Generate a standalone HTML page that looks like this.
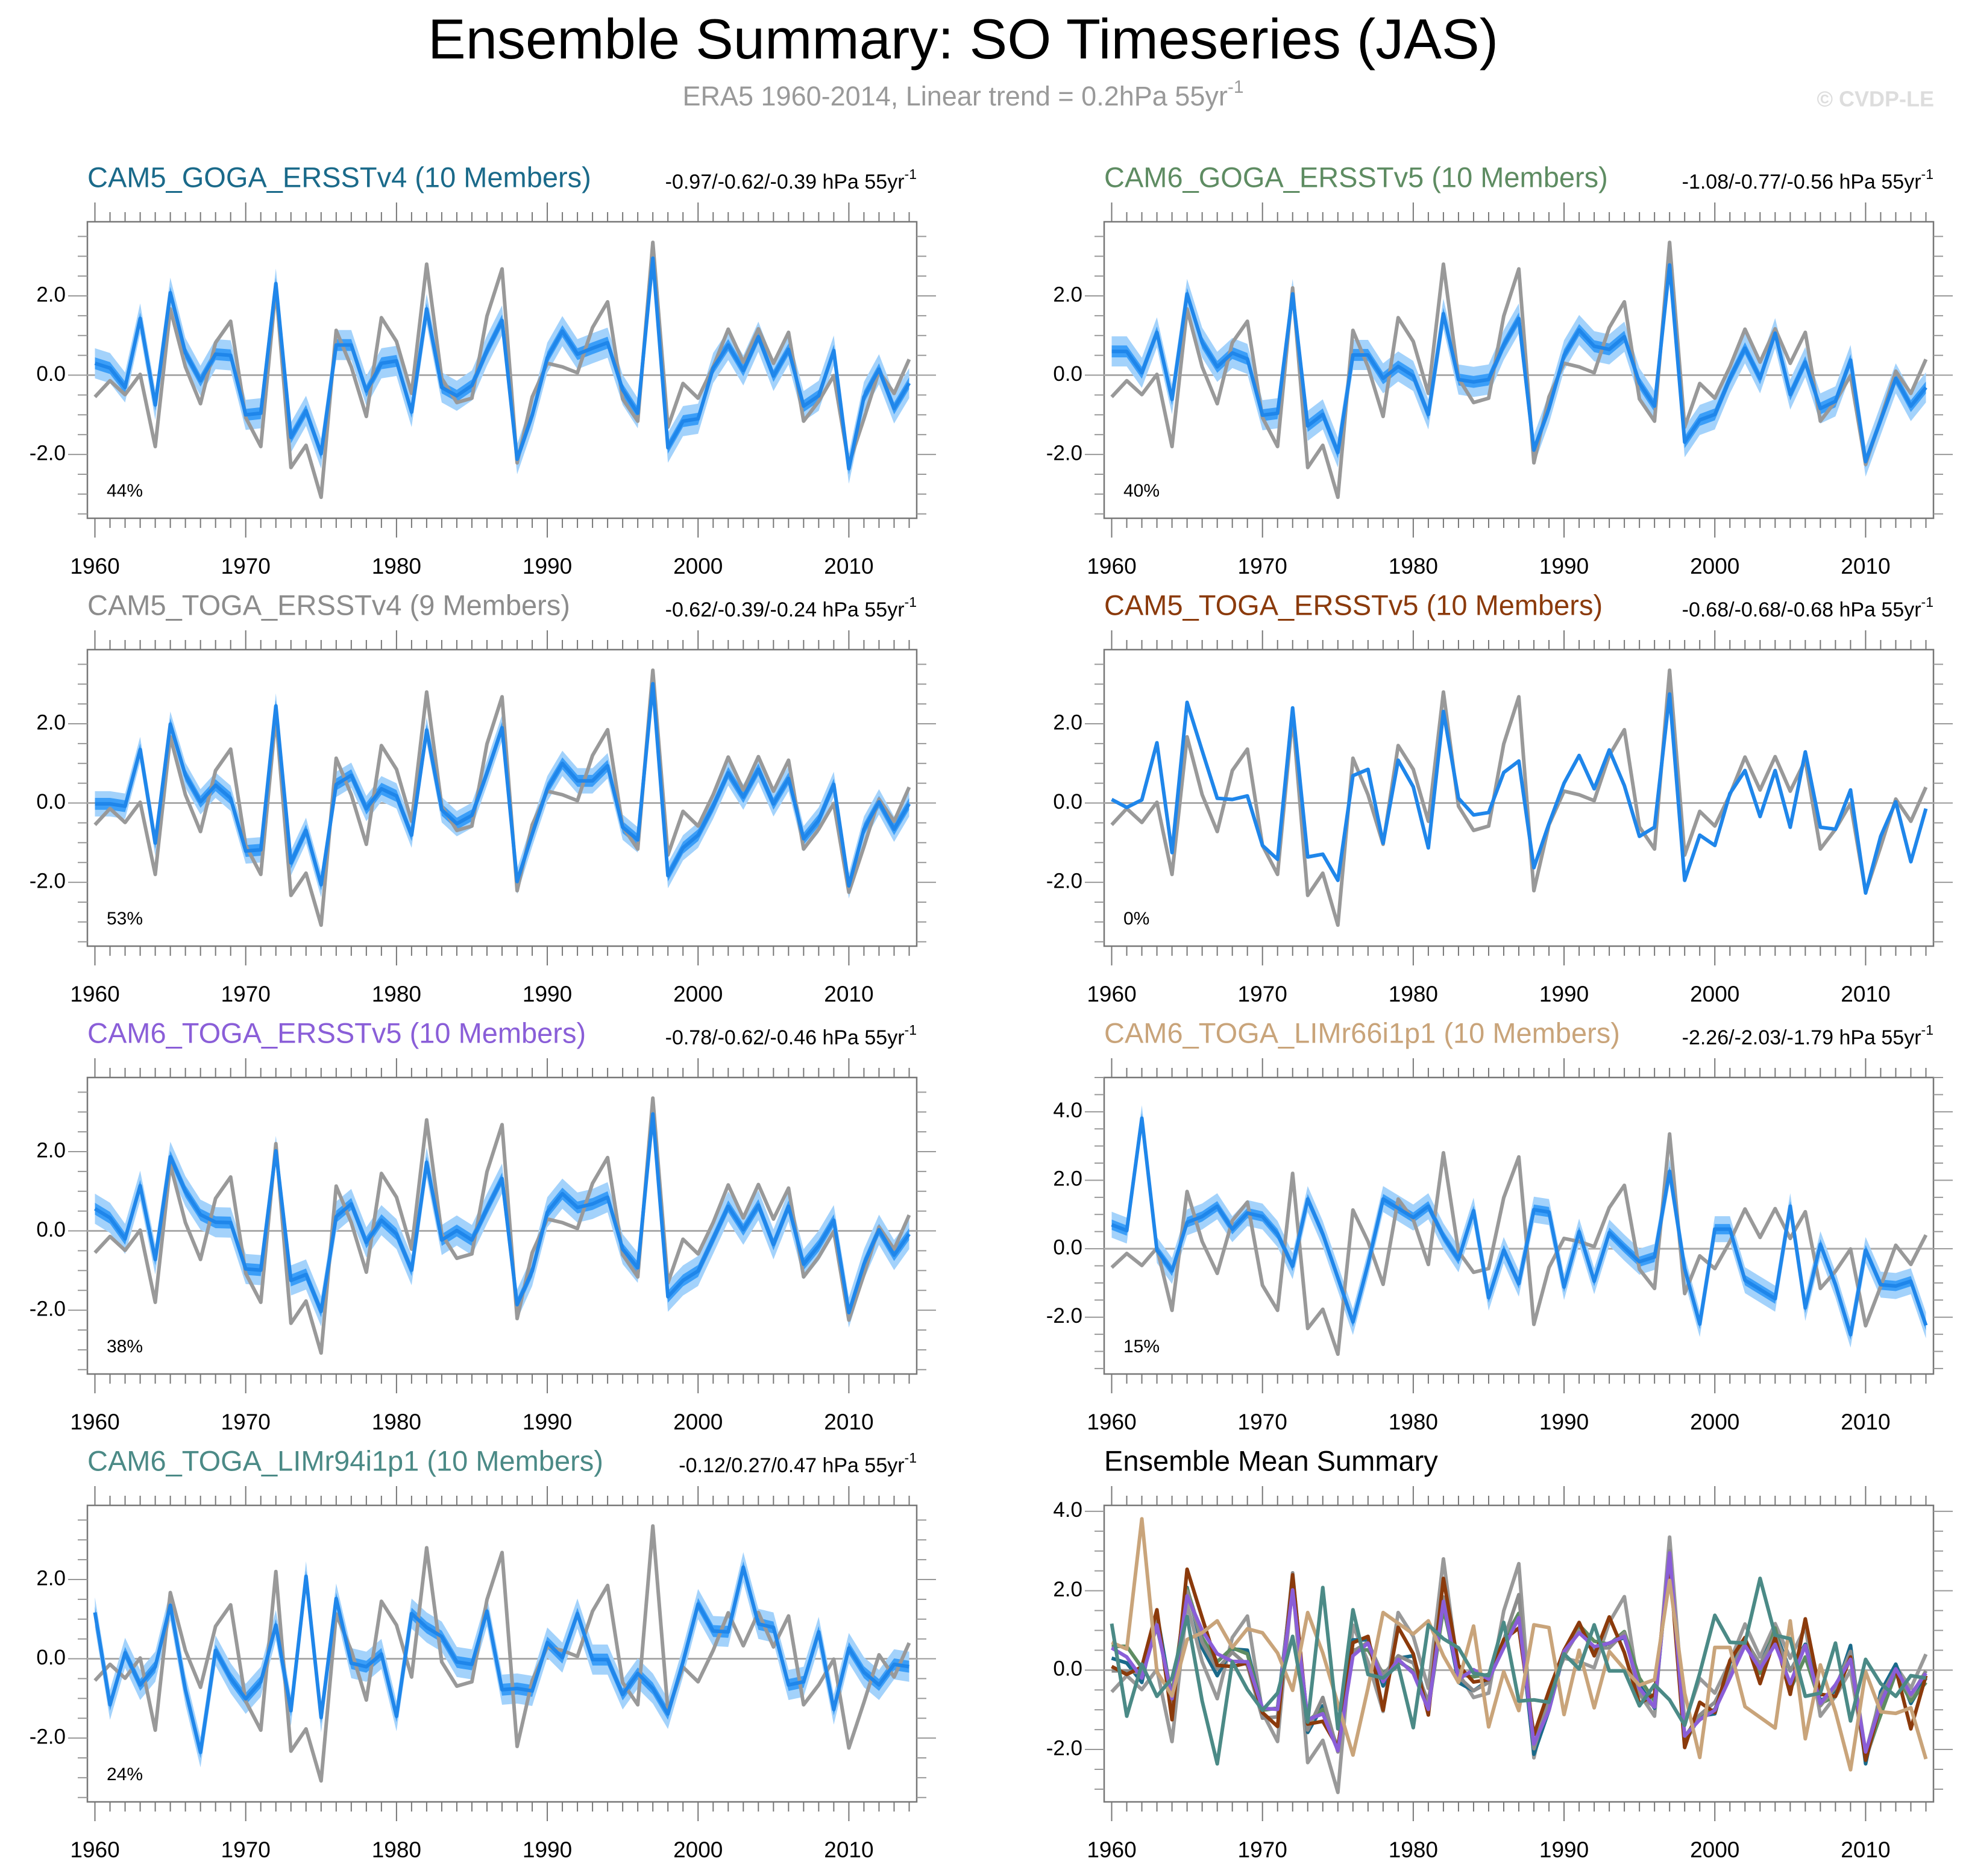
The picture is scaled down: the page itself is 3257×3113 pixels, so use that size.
<!DOCTYPE html>
<html><head><meta charset="utf-8"><title>Ensemble Summary: SO Timeseries (JAS)</title>
<style>
html,body{margin:0;padding:0;background:#fff;}
svg{display:block;font-family:"Liberation Sans",Arial,sans-serif;}
</style></head>
<body>
<svg id="chart" width="3257" height="3113" viewBox="0 0 3257 3113" xmlns="http://www.w3.org/2000/svg">
<rect width="3257" height="3113" fill="#fff"/>
<text x="1598" y="72" font-size="94" text-anchor="middle" dominant-baseline="middle" fill="#000">Ensemble Summary: SO Timeseries (JAS)</text>
<text x="1598" y="163" font-size="45" text-anchor="middle" dominant-baseline="middle" fill="#999">ERA5 1960-2014, Linear trend = 0.2hPa 55yr<tspan font-size="30" dy="-17">-1</tspan></text>
<text x="3209" y="167" font-size="36" font-weight="bold" text-anchor="end" dominant-baseline="middle" fill="#ddd">© CVDP-LE</text>
<g id="panels"></g>
</svg>
<script>
const years = [];
for (let y = 1960; y <= 2014; y++) years.push(y);
const xTickLabels = ["1960","1970","1980","1990","2000","2010"];
const era5 = [-0.55,-0.14,-0.49,0.02,-1.8,1.67,0.21,-0.72,0.82,1.36,-1.07,-1.8,2.2,-2.33,-1.77,-3.08,1.13,0.21,-1.04,1.45,0.85,-0.46,2.8,-0.08,-0.69,-0.58,1.49,2.68,-2.21,-0.55,0.3,0.21,0.06,1.2,1.85,-0.6,-1.16,3.35,-1.31,-0.21,-0.58,0.21,1.16,0.33,1.17,0.3,1.08,-1.16,-0.66,-0.01,-2.25,-1.1,0.1,-0.46,0.4];
const camGogaV4 = [0.3,0.18,-0.31,1.43,-0.75,2.08,0.56,-0.14,0.53,0.5,-1.0,-0.96,2.31,-1.57,-0.9,-1.98,0.76,0.76,-0.4,0.3,0.36,-0.93,1.67,-0.31,-0.52,-0.26,0.62,1.38,-2.12,-1.01,0.44,1.11,0.53,0.68,0.82,-0.37,-0.96,2.95,-1.83,-1.16,-1.1,0.18,0.76,0.12,0.97,-0.02,0.65,-0.78,-0.52,0.62,-2.36,-0.55,0.15,-0.84,-0.2];
const cam6GogaV5 = [0.6,0.6,0.06,1.08,-0.61,2.05,0.82,0.21,0.56,0.41,-1.01,-0.96,2.05,-1.28,-0.99,-1.95,0.51,0.51,-0.08,0.22,-0.02,-0.99,1.55,-0.11,-0.17,-0.11,0.76,1.43,-1.89,-0.84,0.5,1.14,0.73,0.65,0.97,-0.2,-0.78,2.78,-1.69,-1.13,-0.99,-0.08,0.68,-0.08,1.06,-0.49,0.33,-0.84,-0.66,0.38,-2.18,-1.13,-0.08,-0.78,-0.31];
const cam5TogaV4 = [-0.02,-0.02,-0.08,1.35,-1.01,1.99,0.7,0.03,0.45,0.12,-1.21,-1.18,2.45,-1.51,-0.69,-2.06,0.47,0.7,-0.14,0.36,0.18,-0.81,1.84,-0.17,-0.52,-0.31,0.76,1.9,-1.98,-0.78,0.36,1.0,0.56,0.56,0.94,-0.61,-0.93,3.01,-1.83,-1.13,-0.81,-0.08,0.76,0.15,0.85,-0.02,0.62,-0.9,-0.43,0.47,-2.09,-0.66,0.03,-0.66,-0.02];
const cam5TogaV5 = [0.09,-0.11,0.08,1.52,-1.25,2.54,1.32,0.12,0.09,0.18,-1.07,-1.42,2.4,-1.36,-1.29,-1.95,0.69,0.85,-1.01,1.08,0.41,-1.13,2.31,0.12,-0.3,-0.24,0.77,1.06,-1.63,-0.52,0.5,1.2,0.36,1.34,0.44,-0.84,-0.61,2.75,-1.95,-0.81,-1.07,0.24,0.82,-0.34,0.82,-0.61,1.29,-0.61,-0.66,0.33,-2.27,-0.84,0.03,-1.48,-0.14];
const cam6TogaV5 = [0.56,0.33,-0.2,1.14,-0.72,1.87,1.0,0.41,0.22,0.21,-0.96,-0.99,2.02,-1.25,-1.1,-2.03,0.36,0.68,-0.29,0.27,-0.08,-0.99,1.73,-0.23,0.01,-0.23,0.56,1.32,-1.86,-1.01,0.47,0.94,0.59,0.68,0.85,-0.46,-0.93,2.95,-1.66,-1.25,-1.01,-0.2,0.62,0.03,0.65,-0.34,0.62,-0.84,-0.37,0.27,-2.06,-0.84,0.03,-0.61,-0.08];
const limR66 = [0.7,0.53,3.81,-0.04,-0.65,0.77,0.94,1.24,0.57,1.04,0.94,0.43,-0.51,1.45,0.43,-0.85,-2.14,-0.45,1.45,1.18,0.91,1.24,0.36,-0.31,1.11,-1.43,-0.04,-1.02,1.14,1.07,-1.12,0.5,-0.95,0.47,0.03,-0.38,-0.24,2.26,-0.58,-2.2,0.57,0.57,-0.92,-1.19,-1.46,1.24,-1.73,0.13,-1.05,-2.51,-0.04,-1.05,-1.09,-0.95,-2.24];
const limR94 = [1.17,-1.16,0.15,-0.66,-0.2,1.35,-0.78,-2.36,0.21,-0.49,-1.01,-0.58,0.85,-1.31,2.08,-1.48,1.52,-0.11,-0.2,0.12,-1.45,1.14,0.79,0.56,-0.08,-0.14,1.2,-0.78,-0.75,-0.81,0.41,0.03,1.14,-0.02,-0.02,-0.9,-0.37,-0.75,-1.39,-0.08,1.38,0.7,0.68,2.31,0.88,0.79,-0.66,-0.58,0.68,-1.28,0.27,-0.34,-0.66,-0.14,-0.2];
const innerSpread = [0.15,0.15,0.15,0,0.15,0.15,0.15];
const outerSpread = [0.38,0.38,0.32,0,0.38,0.38,0.38];
const panelTitles = ["CAM5_GOGA_ERSSTv4 (10 Members)","CAM6_GOGA_ERSSTv5 (10 Members)","CAM5_TOGA_ERSSTv4 (9 Members)","CAM5_TOGA_ERSSTv5 (10 Members)","CAM6_TOGA_ERSSTv5 (10 Members)","CAM6_TOGA_LIMr66i1p1 (10 Members)","CAM6_TOGA_LIMr94i1p1 (10 Members)"];
const trendLabels = ["-0.97/-0.62/-0.39 hPa 55yr","-1.08/-0.77/-0.56 hPa 55yr","-0.62/-0.39/-0.24 hPa 55yr","-0.68/-0.68/-0.68 hPa 55yr","-0.78/-0.62/-0.46 hPa 55yr","-2.26/-2.03/-1.79 hPa 55yr","-0.12/0.27/0.47 hPa 55yr"];
const pctLabels = ["44%","40%","53%","0%","38%","15%","24%"];
const titleColors = ["#1a6a8a","#5e8c62","#8c8c8c","#8b3a0b","#8a5ed8","#c9a47a","#4b8a86"];
const seriesList = [camGogaV4, cam6GogaV5, cam5TogaV4, cam5TogaV5, cam6TogaV5, limR66, limR94];
const yTicksStd = [-2, 0, 2];
const yTicksWide = [-2, 0, 2, 4];

const NS = "http://www.w3.org/2000/svg";
const root = document.getElementById("panels");
function mk(tag, attrs, parent) {
  const e = document.createElementNS(NS, tag);
  for (const k in attrs) e.setAttribute(k, attrs[k]);
  (parent || root).appendChild(e);
  return e;
}
const colX = [145, 1832], rowY = [368, 1078, 1788, 2498];
const PW = 1376, PH = 492;

function drawPanel(idx, x0, y0, ymin, ymax, yTicks) {
  const g = mk("g", {});
  
  
  const xs = v => x0 + (v - 1959.5) / 55 * PW;
  const ys = v => y0 + (ymax - v) / (ymax - ymin) * PH;
  const frame = mk("rect", {x: x0, y: y0, width: PW, height: PH, fill: "#fff", stroke: "#777", "stroke-width": 2.5}, g);
  
  
  years.forEach(yr => {
    const major = yr % 10 === 0;
    const t = mk("line", {x1: xs(yr), x2: xs(yr), y1: y0 + PH, y2: y0 + PH + (major ? 32 : 16), stroke: "#777", "stroke-width": 2}, g);
    
    
    const t2 = mk("line", {x1: xs(yr), x2: xs(yr), y1: y0, y2: y0 - (major ? 32 : 16), stroke: "#777", "stroke-width": 2}, g);
    
    
  });
  xTickLabels.forEach(l => {
    const t = mk("text", {x: xs(+l), y: y0 + PH + 82, "font-size": 37, "text-anchor": "middle", "dominant-baseline": "middle", fill: "#000"}, g);
    t.textContent = l;
    
    
  });
  for (let v = Math.ceil(ymin * 2) / 2; v <= ymax; v += 0.5) {
    const major = Math.abs(v % 2) < 1e-6;
    [[x0, -1], [x0 + PW, 1]].forEach(([xe, d]) => {
      const t = mk("line", {x1: xe, x2: xe + d * (major ? 32 : 16), y1: ys(v), y2: ys(v), stroke: "#999", "stroke-width": 2}, g);
      
      
    });
  }
  yTicks.forEach(v => {
    const t = mk("text", {x: x0 - 36, y: ys(v), "font-size": 35, "text-anchor": "end", "dominant-baseline": "middle", fill: "#000"}, g);
    t.textContent = v.toFixed(1);
    
    
  });
  const z = mk("line", {x1: x0, x2: x0 + PW, y1: ys(0), y2: ys(0), stroke: "#aaa", "stroke-width": 3}, g);
  
  
  return {g, xs, ys};
}
function poly(g, xs, ys, arr, color, w, name) {
  const p = mk("polyline", {points: arr.map((v, i) => xs(years[i]) + "," + ys(v)).join(" "), fill: "none", stroke: color, "stroke-width": w, "stroke-linejoin": "round"}, g);
  
  
}
function band(g, xs, ys, arr, s, color, name) {
  const up = arr.map((v, i) => xs(years[i]) + "," + ys(v + s));
  const lo = arr.map((v, i) => xs(years[i]) + "," + ys(v - s)).reverse();
  const p = mk("polygon", {points: up.concat(lo).join(" "), fill: color, stroke: "none"}, g);
  
  
}

seriesList.forEach((ser, i) => {
  const col = i === 6 ? 0 : i % 2, row = Math.floor(i / 2);
  const x0 = colX[col], y0 = rowY[row];
  const wide = i === 5;
  const {g, xs, ys} = drawPanel(i, x0, y0, wide ? -3.66 : -3.61, wide ? 5.0 : 3.87, wide ? yTicksWide : yTicksStd);
  if (outerSpread[i] > 0) {
    band(g, xs, ys, ser, outerSpread[i], "#a3d2fb", "ensemble-range-band");
    band(g, xs, ys, ser, innerSpread[i], "#3b9ef8", "ensemble-iqr-band");
  }
  poly(g, xs, ys, era5, "#999", 6, "era5-line");
  poly(g, xs, ys, ser, "#1f86ea", 6, "ensemble-mean-line");
  const t = mk("text", {x: x0, y: y0 - 70, "font-size": 47, fill: titleColors[i], "dominant-baseline": "middle"}, g);
  t.textContent = panelTitles[i];
  
  
  const tr = mk("text", {x: x0 + PW, y: y0 - 64, "font-size": 34, fill: "#000", "text-anchor": "end", "dominant-baseline": "middle"}, g);
  tr.textContent = trendLabels[i];
  const sup = mk("tspan", {"font-size": 23, dy: -13}, tr);
  sup.textContent = "-1";
  
  
  const pc = mk("text", {x: x0 + 32, y: y0 + 448, "font-size": 30, fill: "#000", "dominant-baseline": "middle"}, g);
  pc.textContent = pctLabels[i];
  
  
});

(function () {
  const x0 = colX[1], y0 = rowY[3];
  const {g, xs, ys} = drawPanel(7, x0, y0, -3.32, 4.15, yTicksWide);
  poly(g, xs, ys, era5, "#999", 6, "era5-line");
  seriesList.forEach((ser, i) => poly(g, xs, ys, ser, titleColors[i], 6, "summary-line-" + (i + 1)));
  const t = mk("text", {x: x0, y: y0 - 70, "font-size": 47, fill: "#000", "dominant-baseline": "middle"}, g);
  t.textContent = "Ensemble Mean Summary";
  
  
})();
</script>
</body></html>
